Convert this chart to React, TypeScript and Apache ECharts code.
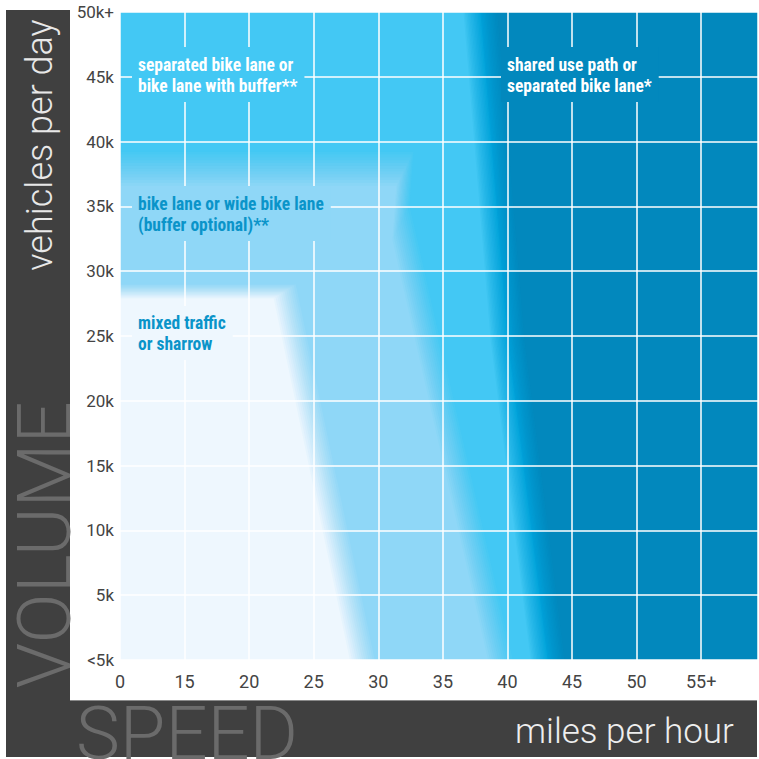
import React, { useEffect, useRef } from 'react';
import * as echarts from 'echarts';

// Axis ticks (speed in mph, volume in thousand vehicles/day)
const speedTicks = [0, 15, 20, 25, 30, 35, 40, 45, 50, 55];
const speedLabels = ['0', '15', '20', '25', '30', '35', '40', '45', '50', '55+'];
const speedMax = 59.4;
const volumeTicks = [0, 5, 10, 15, 20, 25, 30, 35, 40, 45, 50];
const volumeLabels = ['<5k', '5k', '10k', '15k', '20k', '25k', '30k', '35k', '40k', '45k', '50k+'];

// Zone outlines: [mph, thousand vehicles/day], from the top-left corner, down the right edge, to the bottom-left
const separatedOuterZone = [[0, 50], [37.9, 50], [40.0, 24.7], [43.1, 0], [0, 0]];
const separatedZone = [[0, 50], [36.6, 50], [38.7, 24.7], [41.8, 0], [0, 0]];
const bikeLaneZone = [[0, 36.6], [31.4, 36.6], [31.1, 32.4], [38.5, 0], [0, 0]];
const mixedTrafficZone = [[0, 27.9], [21.9, 27.9], [27.8, 0], [0, 0]];

const zoneNames = ['separated (edge)', 'separated bike lane', 'bike lane', 'mixed traffic'];
const zones = [separatedOuterZone, separatedZone, bikeLaneZone, mixedTrafficZone];

const zoneLabels = [
  'separated bike lane or\nbike lane with buffer**',
  'bike lane or wide bike lane\n(buffer optional)**',
  'mixed traffic\nor sharrow',
  'shared use path or\nseparated bike lane*',
];

// styles
const zoneStyles = [
  { color: '#00a3db', fadeX: 17, fadeY: 0 },
  { color: '#43c8f4', fadeX: 17, fadeY: 0 },
  { color: '#8fd7f7', fadeX: 17, fadeY: 34 },
  { color: '#eef7fe', fadeX: 22, fadeY: 14 },
];
const FADE_STEPS = 12;
const BG = '#0288bd';

function speedToAxis(mph: number): number {
  // axis positions are evenly spaced between the tick speeds
  for (let i = 1; i < speedTicks.length; i++) {
    if (mph <= speedTicks[i]) {
      const a = speedTicks[i - 1];
      const b = speedTicks[i];
      return i - 1 + (mph - a) / (b - a);
    }
  }
  const n = speedTicks.length - 1;
  return n + (mph - speedTicks[n]) / 5;
}

const labelFont = "bold 17.5px 'Roboto Condensed', 'Liberation Sans Narrow', 'DejaVu Sans Condensed', Roboto, sans-serif";

function buildOption(): any {
  return {
    animation: false,
    grid: { left: 120, right: 1, top: 12, bottom: 99, show: true, backgroundColor: BG, borderWidth: 0 },
    xAxis: {
      type: 'value',
      min: 0,
      max: speedToAxis(speedMax),
      interval: 1,
      z: 5,
      axisLine: { show: false },
      axisTick: { show: false },
      axisLabel: {
        margin: 12,
        color: '#444',
        fontSize: 18,
        fontFamily: 'Roboto',
        showMaxLabel: false,
        formatter: (v: number) => (Number.isInteger(v) && speedLabels[v] !== undefined ? speedLabels[v] : ''),
      },
      splitLine: { show: true, lineStyle: { color: '#ffffff', width: 1.5 } },
    },
    yAxis: {
      type: 'value',
      min: 0,
      max: 50,
      interval: 5,
      z: 5,
      axisLine: { show: false },
      axisTick: { show: false },
      axisLabel: {
        margin: 6,
        color: '#444',
        fontSize: 17,
        fontFamily: 'Roboto',
        formatter: (v: number) => {
          const i = volumeTicks.indexOf(v);
          return i >= 0 ? volumeLabels[i] : '';
        },
      },
      splitLine: { show: true, lineStyle: { color: '#ffffff', width: 1.5 } },
    },
    series: [
      {
        type: 'custom',
        name: 'zones',
        clip: true,
        z: 2,
        data: zones.map((_, i) => ({ name: zoneNames[i], value: [i] })),
        renderItem: (params: any, api: any) => {
          const i = params.dataIndex;
          const pts: number[][] = zones[i].map(([mph, k]) => api.coord([speedToAxis(mph), k]));
          // extend the bottom below the plot so shifted copies still reach it
          const n = pts.length;
          const last = pts[n - 2];
          const prev = pts[n - 3];
          const ext = 80;
          const dyv = last[1] - prev[1];
          const dxv = last[0] - prev[0];
          const extLast = [last[0] + (dyv !== 0 ? (dxv / dyv) * ext : 0), last[1] + ext];
          const extBottomLeft = [pts[n - 1][0] - ext, pts[n - 1][1] + ext];
          const poly = pts.slice(0, n - 1).concat([extLast, extBottomLeft]);
          poly[0] = [poly[0][0] - ext, poly[0][1]];
          const st = zoneStyles[i];
          const children: any[] = [];
          for (let s = FADE_STEPS; s >= 1; s--) {
            const dx = (st.fadeX * s) / FADE_STEPS;
            const dy = (st.fadeY * s) / FADE_STEPS;
            children.push({
              type: 'polygon',
              shape: { points: poly.map((p) => [p[0] + dx, p[1] - dy]) },
              style: { fill: st.color, opacity: 1 / (s + 1) },
            });
          }
          children.push({ type: 'polygon', shape: { points: poly }, style: { fill: st.color } });
          return { type: 'group', children };
        },
      },
    ],
    graphic: [
      // dark frame
      { type: 'rect', z: 1, shape: { x: 6, y: 10, width: 64, height: 747 }, style: { fill: '#404040' } },
      { type: 'rect', z: 1, shape: { x: 6, y: 700, width: 751, height: 57 }, style: { fill: '#404040' } },
      { type: 'line', z: 1, shape: { x1: 70, y1: 700.5, x2: 757, y2: 700.5 }, style: { stroke: '#8a8a8a', lineWidth: 1 } },
      {
        type: 'text', z: 2, x: 44, y: 545, rotation: Math.PI / 2,
        style: { text: 'VOLUME', fill: '#6b6b6b', font: "300 74px Roboto", align: 'center', verticalAlign: 'middle' },
      },
      {
        type: 'text', z: 2, x: 40, y: 145, rotation: Math.PI / 2,
        style: { text: 'vehicles per day', fill: '#e8e8e8', font: "300 36px Roboto", align: 'center', verticalAlign: 'middle' },
      },
      {
        type: 'text', z: 2, x: 76, y: 733,
        style: { text: 'SPEED', fill: '#6b6b6b', font: "300 74px Roboto", align: 'left', verticalAlign: 'middle' },
      },
      {
        type: 'text', z: 2, x: 515, y: 731,
        style: { text: 'miles per hour', fill: '#eeeeee', font: "300 35px Roboto", align: 'left', verticalAlign: 'middle' },
      },
      // zone labels
      {
        type: 'text', z: 100, x: 132, y: 47,
        style: { text: zoneLabels[0], fill: '#ffffff', font: labelFont, lineHeight: 21, backgroundColor: '#43c8f4', padding: [7, 7, 6, 6] },
      },
      {
        type: 'text', z: 100, x: 132, y: 186,
        style: { text: zoneLabels[1], fill: '#0a94c9', font: labelFont, lineHeight: 21, backgroundColor: '#8fd7f7', padding: [7, 7, 6, 6] },
      },
      {
        type: 'text', z: 100, x: 132, y: 306,
        style: { text: zoneLabels[2], fill: '#0a94c9', font: labelFont, lineHeight: 20.5, backgroundColor: '#eef7fe', padding: [7, 7, 6, 6] },
      },
      {
        type: 'text', z: 100, x: 501, y: 47,
        style: { text: zoneLabels[3], fill: '#ffffff', font: labelFont, lineHeight: 21, backgroundColor: BG, padding: [7, 7, 6, 6] },
      },
    ],
  };
}

export default function App() {
  const ref = useRef<HTMLDivElement>(null);
  useEffect(() => {
    if (!ref.current) return;
    const chart = echarts.init(ref.current, null, { renderer: 'svg' });
    chart.setOption(buildOption());
    return () => chart.dispose();
  }, []);
  return (
    <div
      ref={ref}
      style={{ position: 'fixed', left: 0, top: 0, width: 759, height: 759, background: '#ffffff' }}
    />
  );
}
